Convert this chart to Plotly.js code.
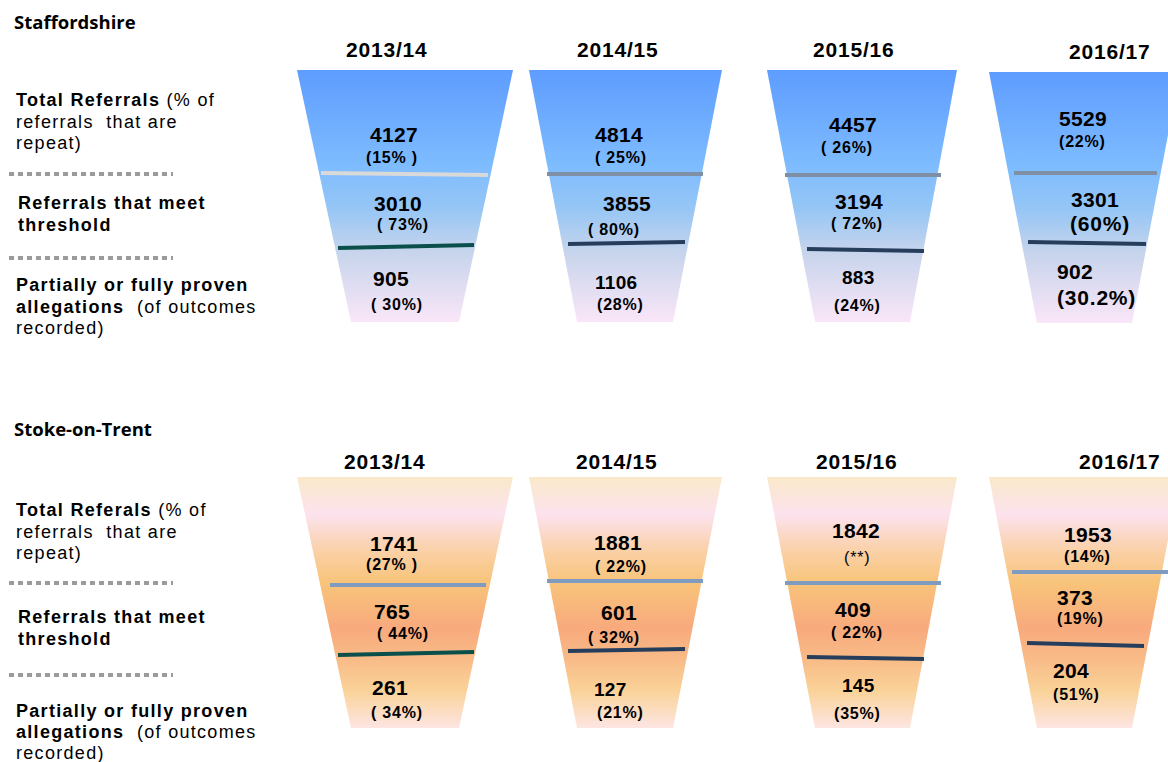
<!DOCTYPE html>
<html>
<head>
<meta charset="utf-8">
<script src="https://cdn.plot.ly/plotly-3.0.1.min.js"></script>
<style>
  html, body { margin: 0; padding: 0; background: #ffffff; }
  #chart { width: 1168px; height: 762px; }
</style>
</head>
<body>
<div id="chart"></div>
<script>
// ---------------- DATA ----------------
const years = ['2013/14', '2014/15', '2015/16', '2016/17'];
const regions = ['Staffordshire', 'Stoke-on-Trent'];

const staffTotal = [4127, 4814, 4457, 5529];
const staffTotalPct = ['(15% )', '( 25%)', '( 26%)', '(22%)'];
const staffThreshold = [3010, 3855, 3194, 3301];
const staffThresholdPct = ['( 73%)', '( 80%)', '( 72%)', '(60%)'];
const staffProven = [905, 1106, 883, 902];
const staffProvenPct = ['( 30%)', '(28%)', '(24%)', '(30.2%)'];

const stokeTotal = [1741, 1881, 1842, 1953];
const stokeTotalPct = ['(27% )', '( 22%)', '(**)', '(14%)'];
const stokeThreshold = [765, 601, 409, 373];
const stokeThresholdPct = ['( 44%)', '( 32%)', '( 22%)', '(19%)'];
const stokeProven = [261, 127, 145, 204];
const stokeProvenPct = ['( 34%)', '(21%)', '(35%)', '(51%)'];

const staffLabels = [
  ['<b>Total Referrals</b> (% of', 'referrals  that are', 'repeat)'],
  ['<b>Referrals that meet</b>', '<b>threshold</b>'],
  ['<b>Partially or fully proven</b>', '<b>allegations</b>  (of outcomes', 'recorded)']
];
const stokeLabels = [
  ['<b>Total Referals</b> (% of', 'referrals  that are', 'repeat)'],
  ['<b>Referrals that meet</b>', '<b>threshold</b>'],
  ['<b>Partially or fully proven</b>', '<b>allegations</b>  (of outcomes', 'recorded)']
];

// ---------------- LAYOUT GEOMETRY (pixels on a 1168x762 canvas) ----------------
const funnelTopL = [297, 529, 767, 989];
const funnelTopR = [513, 722, 957, 1180];
const funnelBotL = [351, 577, 815, 1037];
const funnelBotR = [459, 673, 910, 1132];

const regionGeo = [
  {
    title: {x: 12, y: 21},
    yearX: [387, 618, 854, 1110], yearY: [49, 49, 49, 51],
    top: [70, 70, 70, 72], bot: [322, 322, 322, 323],
    line1: [[321,173,488,175],[547,174,703,174],[785,175,941,175],[1014,173,1157,173]],
    line2: [[338,248,474,245],[568,244,685,242],[807,249,924,251],[1028,242,1146,244]],
    line1Color: ['#d9d9d9', '#7e8fa6', '#7e8fa6', '#7e8fa6'],
    line2Color: ['#0b4f4b', '#263e5c', '#263e5c', '#263e5c'],
    textX: [[394,392,398,403,391,397],[619,621,627,614,616,620],[853,847,859,857,858,857],[1083,1082,1095,1100,1075,1096]],
    textY: [[134,157,203,224,278,304],[134,157,203,229,282,304],[124,147,201,223,277,305],[118,141,199,223,271,297]],
    labelX: [14, 16, 14],
    labelY: [[100,122,143],[203,225],[285,307,328]],
    dotY: [174, 258],
    colorscale: [
      [0, 'rgb(94,156,255)'],
      [0.38, 'rgb(126,188,255)'],
      [0.55, 'rgb(150,198,245)'],
      [0.72, 'rgb(198,212,236)'],
      [1, 'rgb(250,230,248)']
    ]
  },
  {
    title: {x: 12, y: 428},
    yearX: [385, 617, 857, 1120], yearY: [461, 461, 461, 461],
    top: [477, 477, 477, 477], bot: [728, 728, 728, 728],
    line1: [[330,585,486,585],[547,581,703,581],[785,583,941,583],[1012,572,1168,572]],
    line2: [[338,655,474,652],[568,651,685,649],[807,657,924,659],[1027,643,1144,646]],
    line1Color: ['#7f9cc0', '#7f9cc0', '#7f9cc0', '#7f9cc0'],
    line2Color: ['#0b4f4b', '#263e5c', '#263e5c', '#263e5c'],
    textX: [[394,392,392,403,390,397],[618,621,619,614,610,620],[856,857,853,857,858,857],[1088,1087,1075,1080,1071,1076]],
    textY: [[543,564,611,633,687,712],[542,566,612,637,689,712],[530,557,609,632,685,713],[534,556,597,618,670,694]],
    labelX: [14, 16, 14],
    labelY: [[510,532,553],[617,639],[711,732,753]],
    dotY: [583, 675],
    colorscale: [
      [0, 'rgb(250,233,202)'],
      [0.15, 'rgb(252,226,238)'],
      [0.30, 'rgb(250,208,165)'],
      [0.42, 'rgb(248,196,122)'],
      [0.60, 'rgb(248,170,125)'],
      [0.72, 'rgb(248,186,135)'],
      [0.85, 'rgb(250,210,152)'],
      [1, 'rgb(253,229,226)']
    ]
  }
];

// ---------------- STYLES ----------------
const NUM_FONT = 'Liberation Sans, Arial, sans-serif';
const numSize = 21, pctSize = 16;
function spaced(text, px) {
  return '<span style="letter-spacing:' + px + 'px">' + text + '</span>';
}
function fontSizeFor(r, c, k) {
  const base = (k % 2 === 0) ? numSize : pctSize;
  if (r === 0 && c === 1 && k === 4) return 19;
  if (r === 0 && c === 2 && k === 4) return 19;
  if (r === 0 && c === 3 && (k === 3 || k === 5)) return 21;
  if (r === 1 && c === 1 && k === 4) return 19;
  if (r === 1 && c === 2 && k === 4) return 19;
  return base;
}

// ---------------- BUILD ----------------
const regionData = [
  [staffTotal, staffTotalPct, staffThreshold, staffThresholdPct, staffProven, staffProvenPct],
  [stokeTotal, stokeTotalPct, stokeThreshold, stokeThresholdPct, stokeProven, stokeProvenPct]
];
const regionLabels = [staffLabels, stokeLabels];

const traces = [];
const shapes = [];
const annotations = [];

regions.forEach((name, r) => {
  const g = regionGeo[r];

  annotations.push({
    x: g.title.x, y: g.title.y, xref: 'x', yref: 'y', xanchor: 'left', yanchor: 'middle',
    text: '<b>' + name + '</b>', showarrow: false,
    font: {family: 'Open Sans, sans-serif', size: 18.5, color: '#000'}
  });

  // Left category labels
  regionLabels[r].forEach((block, b) => {
    block.forEach((line, i) => {
      annotations.push({
        x: g.labelX[b], y: g.labelY[b][i], xref: 'x', yref: 'y', xanchor: 'left', yanchor: 'middle',
        text: spaced(line, 1.3), showarrow: false,
        font: {family: NUM_FONT, size: 18, color: '#000'}
      });
    });
  });
  g.dotY.forEach(y => {
    shapes.push({type: 'line', xref: 'x', yref: 'y', x0: 9, x1: 173, y0: y, y1: y,
      line: {color: '#9b9b9b', width: 4, dash: '5px,4px'}});
  });

  years.forEach((yr, c) => {
    // funnel body
    const top = g.top[c], bot = g.bot[c];
    traces.push({
      type: 'scatter', mode: 'lines', hoverinfo: 'skip',
      x: [funnelTopL[c], funnelTopR[c], funnelBotR[c], funnelBotL[c], funnelTopL[c]],
      y: [top, top, bot, bot, top],
      fill: 'toself', line: {width: 0, color: 'rgba(0,0,0,0)'},
      fillgradient: {type: 'vertical', start: top, stop: bot, colorscale: g.colorscale}
    });

    // year header
    annotations.push({
      x: g.yearX[c], y: g.yearY[c], xref: 'x', yref: 'y', xanchor: 'center', yanchor: 'middle',
      text: spaced('<b>' + yr + '</b>', 0.8), showarrow: false,
      font: {family: NUM_FONT, size: 21, color: '#000'}
    });

    // divider lines
    const l1 = g.line1[c], l2 = g.line2[c];
    shapes.push({type: 'line', xref: 'x', yref: 'y', x0: l1[0], y0: l1[1], x1: l1[2], y1: l1[3],
      line: {color: g.line1Color[c], width: 4}});
    shapes.push({type: 'line', xref: 'x', yref: 'y', x0: l2[0], y0: l2[1], x1: l2[2], y1: l2[3],
      line: {color: g.line2Color[c], width: 4}});

    // values
    regionData[r].forEach((arr, k) => {
      const v = arr[c];
      const isStar = (typeof v === 'string' && v.indexOf('*') >= 0);
      const isPct = (k % 2 === 1);
      const body = isStar ? String(v) : '<b>' + String(v) + '</b>';
      annotations.push({
        x: g.textX[c][k], y: g.textY[c][k], xref: 'x', yref: 'y', xanchor: 'center', yanchor: 'middle',
        text: isPct ? spaced(body, 0.8) : spaced(body, 0.3), showarrow: false,
        font: {family: NUM_FONT, size: fontSizeFor(r, c, k), color: '#000'}
      });
    });
  });
});

const layout = {
  width: 1168, height: 762,
  margin: {l: 0, r: 0, t: 0, b: 0, pad: 0},
  paper_bgcolor: '#ffffff', plot_bgcolor: '#ffffff',
  showlegend: false,
  xaxis: {range: [0, 1168], visible: false, fixedrange: true},
  yaxis: {range: [762, 0], visible: false, fixedrange: true},
  shapes: shapes,
  annotations: annotations
};

Plotly.newPlot('chart', traces, layout, {displayModeBar: false, staticPlot: true});
</script>
</body>
</html>
